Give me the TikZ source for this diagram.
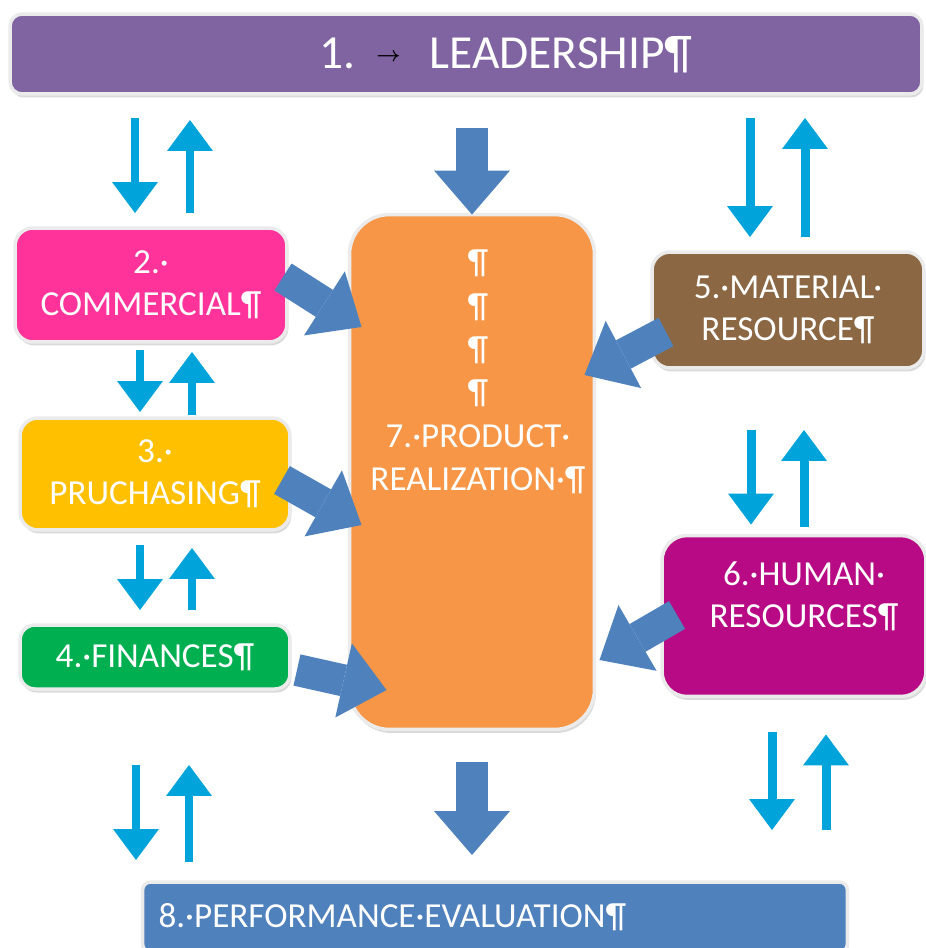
\documentclass[tikz,border=0pt]{standalone}
\usepackage{fontspec}
\setmainfont{Carlito}
\usetikzlibrary{arrows.meta,shadows}

\definecolor{leadpurple}{HTML}{8064A2}
\definecolor{commpink}{HTML}{FF3399}
\definecolor{purchyellow}{HTML}{FFC000}
\definecolor{fingreen}{HTML}{00B050}
\definecolor{prodorange}{HTML}{F79646}
\definecolor{matbrown}{HTML}{8B6743}
\definecolor{hummagenta}{HTML}{B70A84}
\definecolor{perfblue}{HTML}{4F81BD}
\definecolor{thinblue}{HTML}{00A3DA}

\tikzset{
	box/.style={rounded corners=0.36cm, draw=black!8, line width=0.07cm,
		text=white, align=center, inner sep=0pt, outer sep=0pt,
		font=\fontsize{20}{23.8}\selectfont,
		drop shadow={shadow xshift=0.03cm, shadow yshift=-0.07cm, opacity=0.3}},
	boxtext/.style={text=white, align=center, inner sep=0pt,
		font=\fontsize{20}{23.8}\selectfont},
	feed/.style={draw=perfblue, line width=0.64cm,
		-{Triangle[width=1.52cm, length=0.88cm, line width=0pt]}},
	updown/.style={draw=thinblue, line width=0.18cm,
		-{Triangle[width=0.92cm, length=0.62cm, line width=0pt]}}
}

\begin{document}
\begin{tikzpicture}[x=0.02cm, y=-0.02cm]
	\useasboundingbox (0,0) rectangle (926,948);
	\clip (0,0) rectangle (926,948);

	% boxes
	\node[box, fill=leadpurple, minimum width=18.24cm, minimum height=1.6cm, rounded corners=0.24cm] (lead) at (466,54) {};
	\node[boxtext, font=\fontsize{27}{30}\selectfont] (leadtext) at ([shift={(40,1)}]lead.center)
		{1.\hspace{0.42cm}\raisebox{0.14cm}{\color{black}\fontsize{12}{12}\selectfont\boldmath$\rightarrow$}\hspace{0.58cm}LEADERSHIP¶};

	\node[box, fill=commpink, minimum width=5.44cm, minimum height=2.28cm] (comm) at (151,285) {2.·\\COMMERCIAL¶};
	\node[box, fill=purchyellow, minimum width=5.4cm, minimum height=2.24cm] (purch) at (155,474) {3.·\\PRUCHASING¶};
	\node[box, fill=fingreen, minimum width=5.4cm, minimum height=1.28cm, rounded corners=0.3cm] (fin) at (155,657) {4.·FINANCES¶};

	\node[box, fill=prodorange, minimum width=4.9cm, minimum height=10.3cm, rounded corners=0.8cm] (prod) at (472,472) {};
	\node[boxtext, anchor=north, font=\fontsize{20}{24.7}\selectfont] (prodtext) at ([shift={(6,35)}]prod.north)
		{¶\\¶\\¶\\¶\\7.·PRODUCT·\\REALIZATION·¶};

	\node[box, fill=matbrown, minimum width=5.44cm, minimum height=2.32cm] (mat) at (788,310) {5.·MATERIAL·\\RESOURCE¶};
	\node[box, fill=hummagenta, minimum width=5.28cm, minimum height=3.22cm, rounded corners=0.5cm] (hum) at (794,616) {};
	\node[boxtext] (humtext) at ([shift={(10,-20)}]hum.center) {6.·HUMAN·\\RESOURCES¶};

	\node[box, fill=perfblue, minimum width=14.1cm, minimum height=1.4cm, rounded corners=0.16cm,
		text width=13.46cm, inner xsep=0.32cm, align=left] (perf) at (495,917) {8.·PERFORMANCE·EVALUATION¶};

	% arrows into and out of product realization
	\draw[feed] ([shift={(0,34)}]lead.south -| prod.north) -- (prod.north);
	\draw[feed] ([shift={(0,33)}]prod.south) -- ([shift={(0,-27)}]prod.south |- perf.north);
	\draw[feed] ([shift={(-4,-8)}]comm.east) -- ([shift={(12,-145)}]prod.west);
	\draw[feed] ([shift={(-8,6)}]purch.east) -- ([shift={(12,53)}]prod.west);
	\draw[feed] ([shift={(7,13)}]fin.east) -- ([shift={(37,218)}]prod.west);
	\draw[feed] ([shift={(14,22)}]mat.west) -- ([shift={(-10,-97)}]prod.east);
	\draw[feed] ([shift={(15,-1)}]hum.west) -- ([shift={(5,188)}]prod.east);

	% left column
	\draw[updown] ([shift={(-16,24)}]lead.south -| comm.north) -- ([shift={(-16,-15)}]comm.north);
	\draw[updown] ([shift={(39,-15)}]comm.north) -- ([shift={(39,26)}]lead.south -| comm.north);
	\draw[updown] ([shift={(-11,8)}]comm.south) -- ([shift={(-11,-6)}]comm.south |- purch.north);
	\draw[updown] ([shift={(41,-3)}]comm.south |- purch.north) -- ([shift={(41,10)}]comm.south);
	\draw[updown] ([shift={(-15,15)}]purch.south) -- ([shift={(-15,-15)}]fin.north);
	\draw[updown] ([shift={(37,-15)}]fin.north) -- ([shift={(37,18)}]purch.south);
	\draw[updown] ([shift={(-19,76)}]fin.south) -- ([shift={(-19,-22)}]fin.south |- perf.north);
	\draw[updown] ([shift={(34,-20)}]fin.south |- perf.north) -- ([shift={(34,76)}]fin.south);

	% right column
	\draw[updown] ([shift={(-38,24)}]lead.south -| mat.north) -- ([shift={(-38,-15)}]mat.north);
	\draw[updown] ([shift={(17,-15)}]mat.north) -- ([shift={(17,24)}]lead.south -| mat.north);
	\draw[updown] ([shift={(-37,62)}]mat.south) -- ([shift={(-43,-11)}]hum.north);
	\draw[updown] ([shift={(10,-9)}]hum.north) -- ([shift={(16,62)}]mat.south);
	\draw[updown] ([shift={(-22,36)}]hum.south) -- ([shift={(-22,-52)}]hum.south |- perf.north);
	\draw[updown] ([shift={(32,-52)}]hum.south |- perf.north) -- ([shift={(32,38)}]hum.south);
\end{tikzpicture}
\end{document}
